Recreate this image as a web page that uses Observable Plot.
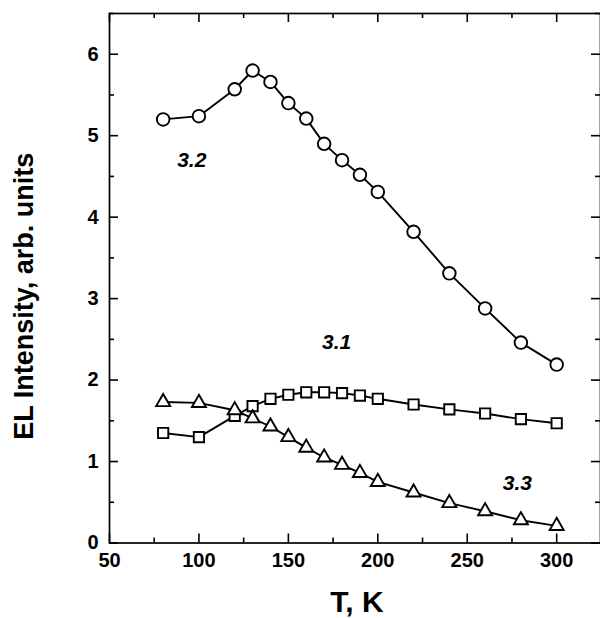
<!DOCTYPE html>
<html><head><meta charset="utf-8">
<script src="https://cdn.jsdelivr.net/npm/d3@7"></script>
<script src="https://cdn.jsdelivr.net/npm/@observablehq/plot@0.6"></script>
<style>body{margin:0;background:#fff}</style>
</head><body><div id="chart"></div>
<script>
// Data
const temps = [80,100,120,130,140,150,160,170,180,190,200,220,240,260,280,300];
const series32 = [5.20,5.24,5.57,5.80,5.66,5.40,5.21,4.90,4.70,4.52,4.31,3.82,3.31,2.88,2.46,2.19]; // circles
const series31 = [1.35,1.30,1.56,1.68,1.77,1.82,1.85,1.85,1.84,1.81,1.77,1.70,1.64,1.59,1.52,1.47]; // squares
const series33 = [1.73,1.72,1.63,1.53,1.43,1.30,1.17,1.05,0.96,0.86,0.75,0.62,0.49,0.39,0.28,0.21]; // triangles
const seriesNames = ["3.2","3.1","3.3"];
const labelX = [96, 177, 278];
const labelY = [4.70, 2.47, 0.73];
const xTicks = [50,100,150,200,250,300];
const xMinorTicks = [75,125,175,225,275,325];
const yTicks = [0,1,2,3,4,5,6];
const yMinorTicks = [0.5,1.5,2.5,3.5,4.5,5.5,6.5];
const xTitle = "T, K";
const yTitle = "EL Intensity, arb. units";

const W = 600, H = 618, mL = 109, mR = 0, mT = 13, mB = 75.5;
const fw = W - mL - mR, fh = H - mT - mB;

const mk = (vals, s) => temps.map((t, i) => ({T: t, v: vals[i], s}));
const r32 = mk(series32, "3.2"), r31 = mk(series31, "3.1"), r33 = mk(series33, "3.3");
const labels = seriesNames.map((n, i) => ({x: labelX[i], y: labelY[i], n}));

const sw = 1.9;
const chart = Plot.plot({
  width: W, height: H,
  marginLeft: mL, marginRight: mR, marginTop: mT, marginBottom: mB,
  x: {domain: [50, 324.5], label: null},
  y: {domain: [0, 6.5], label: null},
  style: {fontFamily: "'Liberation Sans', Arial, sans-serif", fontSize: "20px", color: "black", background: "white"},
  marks: [
    Plot.frame({stroke: "black", strokeWidth: 1.7}),
    // inward ticks: bottom
    Plot.ruleX(xTicks, {insetTop: fh - 9, stroke: "black", strokeWidth: 1.6}),
    Plot.ruleX(xMinorTicks, {insetTop: fh - 5, stroke: "black", strokeWidth: 1.6}),
    // top
    Plot.ruleX(xTicks, {insetBottom: fh - 9, stroke: "black", strokeWidth: 1.6}),
    Plot.ruleX(xMinorTicks, {insetBottom: fh - 5, stroke: "black", strokeWidth: 1.6}),
    // left
    Plot.ruleY(yTicks, {insetRight: fw - 9, stroke: "black", strokeWidth: 1.6}),
    Plot.ruleY(yMinorTicks, {insetRight: fw - 5, stroke: "black", strokeWidth: 1.6}),
    // right
    Plot.ruleY(yTicks, {insetLeft: fw - 9, stroke: "black", strokeWidth: 1.6}),
    Plot.ruleY(yMinorTicks, {insetLeft: fw - 5, stroke: "black", strokeWidth: 1.6}),
    Plot.axisX({ticks: xTicks, tickSize: 0, tickPadding: 10, label: null, fontSize: 20, fontWeight: "bold", tickFormat: d3.format("d")}),
    Plot.axisY({ticks: yTicks, tickSize: 0, tickPadding: 11, label: null, fontSize: 20, fontWeight: "bold", tickFormat: d3.format("d")}),
    Plot.line(r32, {x: "T", y: "v", stroke: "black", strokeWidth: sw}),
    Plot.line(r31, {x: "T", y: "v", stroke: "black", strokeWidth: sw}),
    Plot.line(r33, {x: "T", y: "v", stroke: "black", strokeWidth: sw}),
    Plot.dot(r32, {x: "T", y: "v", symbol: "circle", r: 6.3, fill: "white", stroke: "black", strokeWidth: sw}),
    Plot.dot(r31, {x: "T", y: "v", symbol: "square", r: 5.8, fill: "white", stroke: "black", strokeWidth: sw}),
    Plot.dot(r33, {x: "T", y: "v", symbol: "triangle", r: 5.2, fill: "white", stroke: "black", strokeWidth: sw}),
    Plot.text(labels, {x: "x", y: "y", text: "n", fontSize: 21, fontStyle: "italic", fontWeight: "bold", fill: "black"}),
    Plot.text([yTitle], {frameAnchor: "left", text: d => d, rotate: -90, dx: -85.5, dy: 18, fontSize: 27, fontWeight: "bold", textAnchor: "middle", lineAnchor: "middle", fill: "black"}),
    Plot.text([xTitle], {frameAnchor: "bottom", text: d => d, dx: 2, dy: 59, fontSize: 30, fontWeight: "bold", textAnchor: "middle", lineAnchor: "middle", fill: "black"})
  ]
});
document.getElementById("chart").appendChild(chart);
</script>
</body></html>
